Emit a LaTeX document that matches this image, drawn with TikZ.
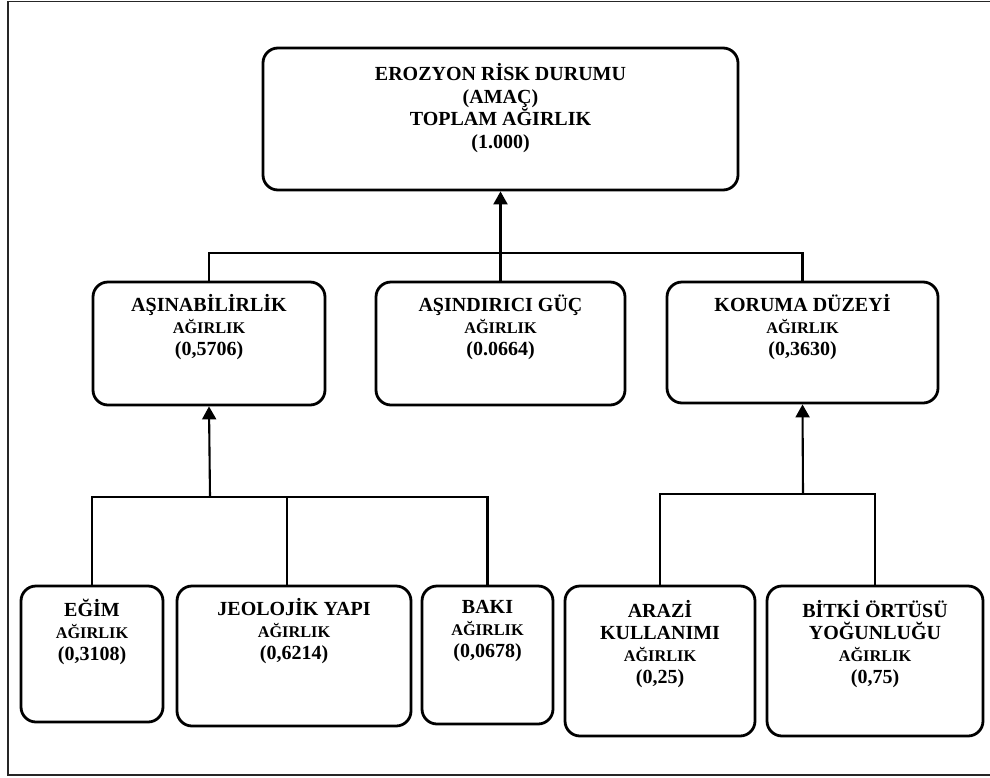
\documentclass[tikz,border=0pt]{standalone}
\usepackage{fontspec}
\setmainfont{Liberation Serif}
\usetikzlibrary{arrows.meta}
\tikzset{
  box/.style={draw=black, line width=2.8pt, rounded corners=15pt, inner sep=0pt},
  conn/.style={draw=black, line width=2.1pt},
  arr/.style={conn, -{Triangle[length=13pt,width=14pt]}},
  lbl/.style={align=center, inner sep=0pt, font=\bfseries\fontsize{20}{22}\selectfont},
  frame/.style={draw=black!85, line width=1.6pt}
}
\newcommand{\agr}{{\fontsize{16.3}{22}\selectfont AĞIRLIK}}
\begin{document}
\begin{tikzpicture}[x=1pt,y=-1pt]
\useasboundingbox (0,0) rectangle (990,777);
\path[frame] (8,1.5) rectangle (1000,775);

% boxes
\node[box, minimum width=475pt, minimum height=142pt] (goal) at (500.5,119) {};
\node[box, minimum width=232pt, minimum height=123pt] (asin) at (209,343.5) {};
\node[box, minimum width=249pt, minimum height=123pt] (guc) at (500.5,343.5) {};
\node[box, minimum width=271pt, minimum height=121pt] (koru) at (802.5,342.5) {};
\node[box, minimum width=142pt, minimum height=136pt] (egim) at (92,654) {};
\node[box, minimum width=234pt, minimum height=140pt] (jeo) at (294,656) {};
\node[box, minimum width=131pt, minimum height=138pt] (baki) at (487.5,655) {};
\node[box, minimum width=190pt, minimum height=150pt] (arazi) at (660,661) {};
\node[box, minimum width=216pt, minimum height=150pt] (bitki) at (875,661) {};

% texts
\node[lbl, font=\bfseries\fontsize{20}{22.5}\selectfont] (tgoal) at (500.5,108) {EROZYON RİSK DURUMU\\(AMAÇ)\\TOPLAM AĞIRLIK\\(1.000)};
\node[lbl] (tasin) at (209,327.5) {AŞINABİLİRLİK\\\agr\\(0,5706)};
\node[lbl] (tguc) at (500.5,327.5) {AŞINDIRICI GÜÇ\\\agr\\(0.0664)};
\node[lbl] (tkoru) at (802.5,327.5) {KORUMA DÜZEYİ\\\agr\\(0,3630)};
\node[lbl] (tegim) at (92,631.5) {EĞİM\\\agr\\(0,3108)};
\node[lbl] (tjeo) at (294,631.5) {JEOLOJİK YAPI\\\agr\\(0,6214)};
\node[lbl] (tbaki) at (487.5,631.5) {BAKI\\\agr\\(0,0678)};
\node[lbl] (tarazi) at (660,644) {ARAZİ\\KULLANIMI\\\agr\\(0,25)};
\node[lbl] (tbitki) at (875,644) {BİTKİ ÖRTÜSÜ\\YOĞUNLUĞU\\\agr\\(0,75)};

% bus coordinates
\coordinate (bustop) at (500.5,253);
\coordinate (busleft) at (210,497);
\coordinate (busright) at (803,494);
\coordinate (jx) at (287,586);

% top level
\draw[conn] (asin.north) |- (bustop) -| (koru.north);
\draw[conn] (guc.north) -- (bustop);
\draw[arr] (bustop) -- (goal.south);

% left group
\draw[conn] (egim.north) |- (busleft) -| (baki.north);
\draw[conn] (jx) -- (jx |- busleft);
\draw[arr] (busleft) -- (asin.south);

% right group
\draw[conn] (arazi.north) |- (busright) -| (bitki.north);
\draw[arr] (busright) -- (koru.south);
\end{tikzpicture}
\end{document}
